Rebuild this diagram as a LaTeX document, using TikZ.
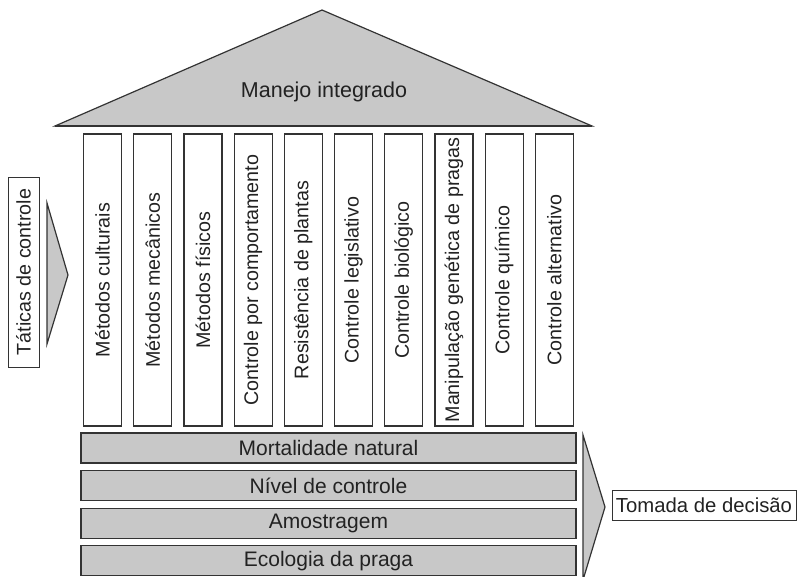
\documentclass[tikz,border=0pt]{standalone}
\usepackage{fontspec}
\setmainfont{Liberation Sans}
\usetikzlibrary{positioning}

\definecolor{roofgray}{HTML}{C8C8C8}
\definecolor{linegray}{HTML}{333333}
\definecolor{textgray}{HTML}{222222}

\tikzset{
	col/.style={draw=linegray, line width=1.2pt, minimum width=38pt, minimum height=292pt, inner sep=0pt, outer sep=0pt},
	bar/.style={draw=linegray, fill=roofgray, line width=1.2pt, minimum width=495pt, minimum height=30pt, inner sep=0pt, outer sep=0pt, font=\fontsize{21}{24}\selectfont},
	tag/.style={draw=linegray, line width=1pt, inner sep=0pt, outer sep=0pt},
	pointer/.style={draw=linegray, fill=roofgray, line width=1.2pt, line join=miter}
}
\newcommand{\up}[1]{\rotatebox{90}{#1}}

\begin{document}
\begin{tikzpicture}[x=1pt, y=-1pt, font=\fontsize{19.7}{23}\selectfont, text=textgray]
	\useasboundingbox (0,0) rectangle (797,576);
	% roof
	\coordinate (rl) at (55,126);
	\coordinate (rt) at (322,10);
	\coordinate (rr) at (592,126);
	\draw[pointer] (rl) -- (rt) -- (rr) -- cycle;
	\draw[linegray, line width=2.2pt] (rl) -- (rr);
	\node (mi)[font=\fontsize{21.5}{24}\selectfont] at (324,92) {Manejo integrado};
	% columns
	\node (c1)[col] at (102.5,280) {\up{Métodos culturais}};
	\node (c2)[col, right=12.2pt of c1] {\up{Métodos mecânicos}};
	\node (c3)[col, right=12.2pt of c2] {\up{Métodos físicos}};
	\node (c4)[col, right=12.2pt of c3] {\up{Controle por comportamento}};
	\node (c5)[col, right=12.2pt of c4] {\up{Resistência de plantas}};
	\node (c6)[col, right=12.2pt of c5] {\up{Controle legislativo}};
	\node (c7)[col, right=12.2pt of c6] {\up{Controle biológico}};
	\node (c8)[col, right=12.2pt of c7] {\up{Manipulação genética de pragas}};
	\node (c9)[col, right=12.2pt of c8] {\up{Controle químico}};
	\node (c10)[col, right=12.2pt of c9] {\up{Controle alternativo}};
	% foundation
	\node (b1)[bar] at (328.5,448) {Mortalidade natural};
	\node (b2)[bar, below=7.6pt of b1] {Nível de controle};
	\node (b3)[bar, below=7.6pt of b2] {Amostragem};
	\node (b4)[bar, below=7.6pt of b3] {Ecologia da praga};
	% left side
	\node (tc)[tag, minimum width=31pt, minimum height=190pt] at (23.5,272) {\up{Táticas de controle}};
	\coordinate (la1) at (47,203);
	\coordinate (la2) at (68,275);
	\coordinate (la3) at (47,344);
	\draw[pointer] (la1) -- (la2) -- (la3) -- cycle;
	% right side
	\coordinate (ra1) at (583,435);
	\coordinate (ra2) at (605,507);
	\coordinate (ra3) at (583,580);
	\draw[pointer] (ra1) -- (ra2) -- (ra3) -- cycle;
	\node (td)[tag, minimum width=184pt, minimum height=30pt, font=\fontsize{20.3}{23}\selectfont] at (704,505) {Tomada de decisão};
\end{tikzpicture}
\end{document}
